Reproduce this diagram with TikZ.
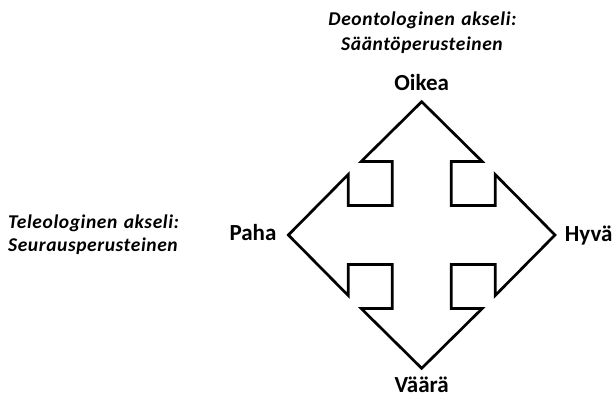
\documentclass[tikz,border=0pt]{standalone}
\usepackage{fontspec}
\usetikzlibrary{calc}
\setmainfont{Carlito}
\newfontfamily\axisfont[LetterSpace=3,WordSpace=1.3]{Carlito}
\begin{document}
\begin{tikzpicture}[x=1pt,y=-1pt,
  pole/.style={font=\fontsize{23}{27}\selectfont\bfseries, anchor=base, inner sep=0pt},
  axis/.style={font=\axisfont\fontsize{19.5}{25}\selectfont\bfseries\itshape, anchor=base, inner sep=0pt},
  outline/.style={line width=2.7pt, line join=miter, draw=black}]
\useasboundingbox (0,0) rectangle (614,397);
\coordinate (c) at (421.7,235);
\def\Tp{133.3}\def\Bs{73.5}\def\Wb{60.5}\def\Sh{29.5}
\draw[outline] ($(c)+(0,-\Tp)$) -- ++(\Wb,\Tp-\Bs) -- ++(\Sh-\Wb,0) -- ++(0,\Bs-\Sh) -- ++(\Bs-\Sh,0)
  -- ++(0,\Sh-\Wb) -- ++(\Tp-\Bs,\Wb) -- ++(\Bs-\Tp,\Wb) -- ++(0,\Sh-\Wb) -- ++(\Sh-\Bs,0)
  -- ++(0,\Bs-\Sh) -- ++(\Wb-\Sh,0) -- ++(-\Wb,\Tp-\Bs) -- ++(-\Wb,\Bs-\Tp) -- ++(\Wb-\Sh,0)
  -- ++(0,\Sh-\Bs) -- ++(\Sh-\Bs,0) -- ++(0,\Wb-\Sh) -- ++(\Bs-\Tp,-\Wb) -- ++(\Tp-\Bs,-\Wb)
  -- ++(0,\Wb-\Sh) -- ++(\Bs-\Sh,0) -- ++(0,\Sh-\Bs) -- ++(\Sh-\Wb,0) -- cycle;
\node[pole] (oikea) at (421.7,90) {Oikea};
\node[pole] (vaara) at (421.7,392.5) {Väärä};
\node[pole] (paha) at (253,240) {Paha};
\node[pole] (hyva) at (588.7,241) {Hyvä};
\node[axis] (deon1) at (422.5,25.7) {Deontologinen akseli:};
\node[axis] (deon2) at (422,50) {Sääntöperusteinen};
\node[axis, anchor=base west] (tele1) at (8,228.3) {Teleologinen akseli:};
\node[axis, anchor=base west] (tele2) at (8,251) {Seurausperusteinen};
\end{tikzpicture}
\end{document}
